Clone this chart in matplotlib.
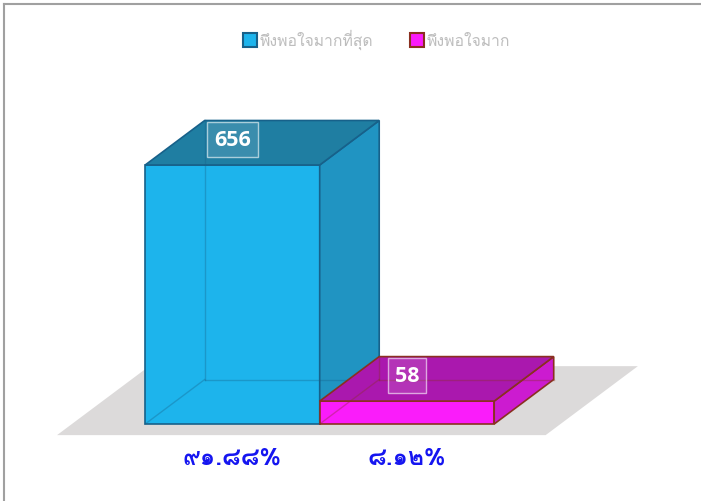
import numpy as np
import matplotlib
matplotlib.use("Agg")
import matplotlib.pyplot as plt
from matplotlib import font_manager
from matplotlib.ft2font import FT2Font
from matplotlib.patches import Polygon, Patch
from matplotlib.lines import Line2D

# data
series = ["พึงพอใจมากที่สุด", "พึงพอใจมาก"]
values = [656, 58]
percent_labels = ["๙๑.๘๘%", "๘.๑๒%"]

front_colors = ["#1db4ec", "#fa1cfa"]
top_colors = ["#1f7ea2", "#aa18ae"]
side_colors = ["#2094c2", "#cc1bd0"]
edge_colors = ["#17618a", "#8a3020"]


def thai_font():
    # first installed font that has Thai glyphs
    for f in font_manager.fontManager.ttflist:
        try:
            if ord("พ") in FT2Font(f.fname).get_charmap():
                return f.name
        except Exception:
            pass
    return "DejaVu Sans"


thai = thai_font()

fig = plt.figure(figsize=(7.01, 5.02), dpi=100)
ax = fig.add_axes([0, 0, 1, 1])
ax.set_xlim(-1.332, 2.685)
ax.set_ylim(-195.0, 1076.4)
ax.axis("off")

DX, DY = 0.341, 112.7   # depth offset of the 3d boxes

# floor
def fp(x, t):
    return (x + t * DX, t * DY)

floor = [fp(-0.92, -0.25), fp(1.88, -0.25), fp(1.88, 1.30), fp(-0.92, 1.30)]
ax.add_patch(Polygon(floor, closed=True, facecolor="#dcdada", edgecolor="none", zorder=1))

for i, v in enumerate(values):
    x0, x1 = i - 0.5, i + 0.5
    z = 2 + i * 5
    ec = edge_colors[i]
    front = [(x0, 0), (x1, 0), (x1, v), (x0, v)]
    top = [(x0, v), (x1, v), (x1 + DX, v + DY), (x0 + DX, v + DY)]
    side = [(x1, 0), (x1 + DX, DY), (x1 + DX, v + DY), (x1, v)]
    ax.add_patch(Polygon(front, closed=True, facecolor=front_colors[i], edgecolor=ec,
                         lw=1.2, zorder=z))
    ax.add_patch(Polygon(side, closed=True, facecolor=side_colors[i], edgecolor=ec,
                         lw=1.2, zorder=z))
    ax.add_patch(Polygon(top, closed=True, facecolor=top_colors[i], edgecolor=ec,
                         lw=1.2, zorder=z + 1))
    # hidden edges seen through the faces
    ax.plot([x0, x0 + DX], [0, DY], color=ec, lw=1, alpha=0.35, zorder=z + 2)
    ax.plot([x0 + DX, x1 + DX], [DY, DY], color=ec, lw=1, alpha=0.35, zorder=z + 2)
    ax.plot([x0 + DX, x0 + DX], [DY, v + DY], color=ec, lw=1, alpha=0.35, zorder=z + 2)
    # value label
    ax.annotate(str(v), xy=(i, v), xytext=(0, 18.5), textcoords="offset points",
                ha="center", va="center", color="white", fontsize=15.5,
                fontweight="bold", family="Open Sans", zorder=20,
                bbox=dict(boxstyle="square,pad=0.33", facecolor=(1, 1, 1, 0.12),
                          edgecolor=(1, 1, 1, 0.6), lw=1))
    # percent under the bar
    ax.annotate(percent_labels[i], xy=(i, 0), xytext=(0, -24), textcoords="offset points",
                ha="center", va="center", color="#1515f0", fontsize=17.5,
                fontweight="bold", family=[thai, "DejaVu Sans"], zorder=20)

handles = [Patch(facecolor=front_colors[k], edgecolor=edge_colors[k], lw=1.5) for k in range(2)]
ax.legend(handles, series, loc="center", bbox_to_anchor=(0.537, 0.920), ncol=2,
          frameon=False, handlelength=0.95, handleheight=0.95, handletextpad=0.15,
          columnspacing=2.3, labelcolor="#bdbdbd",
          prop=dict(family=[thai, "DejaVu Sans"], size=11.3))

# frame lines of the chart area
fig.add_artist(Line2D([4 / 701, 1], [1 - 5 / 502, 1 - 5 / 502], color="#a0a0a0", lw=1.5))
fig.add_artist(Line2D([4 / 701, 4 / 701], [0, 1 - 5 / 502], color="#a0a0a0", lw=1.5))

fig.savefig("out.png", dpi=100)
